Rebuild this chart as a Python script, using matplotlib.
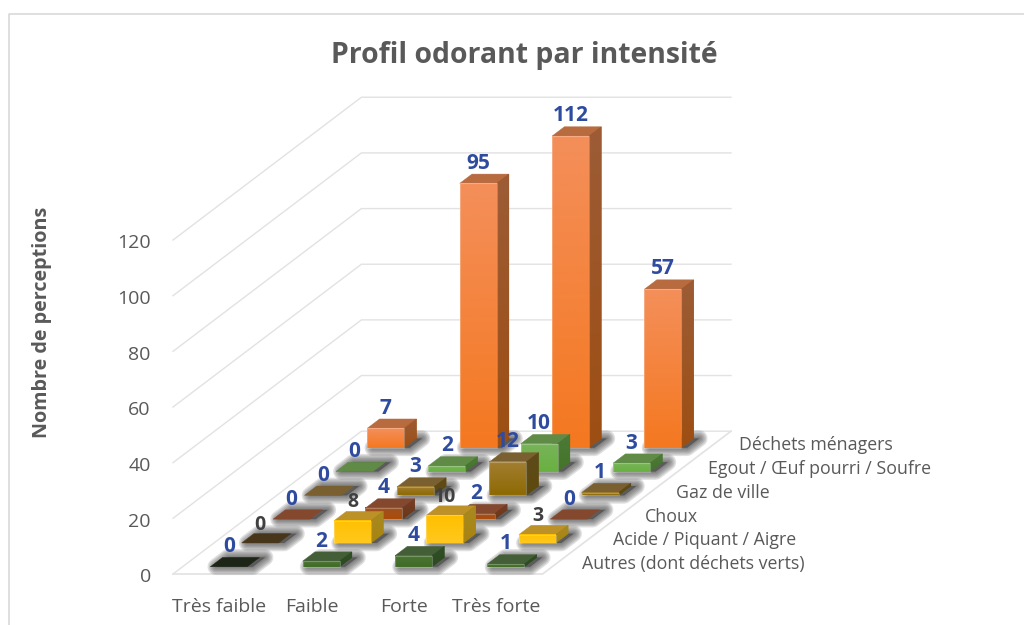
import numpy as np
import matplotlib
matplotlib.use("Agg")
import matplotlib.pyplot as plt
from matplotlib.colors import to_rgb
from matplotlib.lines import Line2D
from matplotlib.patches import Polygon
from matplotlib.transforms import ScaledTranslation

plt.rcParams['font.family'] = ['Open Sans', 'DejaVu Sans']

# rows go from the front of the chart to the back
intensities = ["Très faible", "Faible", "Forte", "Très forte"]
odours = ["Autres (dont déchets verts)", "Acide / Piquant / Aigre", "Choux",
          "Gaz de ville", "Egout / Œuf pourri / Soufre", "Déchets ménagers"]
autres = [0, 2, 4, 1]
acide = [0, 8, 10, 3]
choux = [0, 4, 2, 0]
gaz = [0, 3, 12, 1]
egout = [0, 2, 10, 3]
dechets = [7, 95, 112, 57]
rows = [autres, acide, choux, gaz, egout, dechets]
yticks = [0, 20, 40, 60, 80, 100, 120]

front_top = ["#4C7434", "#FFC000", "#9A5226", "#A27E33", "#78B35A", "#F48F5A"]
front_bot = ["#3F6C26", "#FFC81E", "#AE4B06", "#8E6A02", "#68B13F", "#F47820"]
side_top = ["#304F26", "#A88A22", "#74402A", "#5E4A1C", "#4C7A38", "#9C5C36"]
side_bot = ["#2C4B20", "#A88410", "#6C3616", "#5E4A0C", "#447528", "#9E4E12"]
tops = ["#445E38", "#BC9128", "#84482E", "#7A6030", "#5F8B47", "#B96B40"]
zero_tops = {(0, 0): "#1D2616", (1, 0): "#47361A"}
label_cols = ["#2F4B9F", "#404040", "#2F4B9F", "#2F4B9F", "#2F4B9F", "#2F4B9F"]

# pixel layout of the oblique view
W, H = 1024, 625
x0, y0 = 173, 574
cat_px, unit_px = 92.4, 2.783
dep_px = (31.4, 23.8)
dx = dep_px[0] / cat_px
dy = dep_px[1] / unit_px
bar_w, bar_d = 0.4, 0.39
n_cat, n_row, ymax = len(intensities), len(odours), yticks[-1]


def pt(cat, dep, val):
    return (cat + dep * dx, val + dep * dy)


def poly(points, **kw):
    p = Polygon(points, clip_on=False, **kw)
    ax.add_patch(p)
    return p


def gradient(c_top, c_bot):
    t = np.linspace(0, 1, 64)[:, None, None]
    return np.array(to_rgb(c_top))[None, None, :] * (1 - t) + np.array(to_rgb(c_bot))[None, None, :] * t


fig = plt.figure(figsize=(W / 100, H / 100), dpi=100)
xmax = pt(n_cat, n_row, 0)[0]
ytop = pt(0, n_row, ymax)[1]
ax = fig.add_axes([x0 / W, 1 - y0 / H, xmax * cat_px / W, ytop * unit_px / H])
ax.patch.set_visible(False)
for s in ax.spines.values():
    s.set_visible(False)

# chart frame
fig.add_artist(Line2D([9 / W, 9 / W, 1], [0, 1 - 14 / H, 1 - 14 / H], color="#D9D9D9", lw=1.2))

# walls and floor
grid = "#E2E2E2"
for v in yticks:
    a, b, c = pt(0, 0, v), pt(0, n_row, v), pt(n_cat, n_row, v)
    ax.plot([a[0], b[0], c[0]], [a[1], b[1], c[1]], color=grid, lw=1, zorder=1, clip_on=False)
a, b, c = pt(0, 0, 0), pt(n_cat, 0, 0), pt(n_cat, n_row, 0)
ax.plot([a[0], b[0], c[0]], [a[1], b[1], c[1]], color=grid, lw=1.2, zorder=1, clip_on=False)

# soft shadows on the floor
for j, row in enumerate(rows):
    for i, val in enumerate(row):
        l = i + (1 - bar_w) / 2 + 0.06
        d = j + (1 - bar_d) / 2
        foot = [pt(l, d, 0), pt(l + bar_w, d, 0), pt(l + bar_w, d + bar_d, 0), pt(l, d + bar_d, 0)]
        for lw in [12, 10, 8, 6, 4, 2]:
            poly(foot, fc="#444444", ec="#444444", lw=lw, alpha=0.16, joinstyle="round", zorder=2)

z = 3
for j in range(n_row - 1, -1, -1):
    for i in range(n_cat):
        val = rows[j][i]
        l, r = i + (1 - bar_w) / 2, i + (1 + bar_w) / 2
        d0, d1 = j + (1 - bar_d) / 2, j + (1 + bar_d) / 2
        top_col = zero_tops.get((j, i), tops[j])
        poly([pt(l, d0, val), pt(r, d0, val), pt(r, d1, val), pt(l, d1, val)], fc=top_col, ec=top_col, lw=0.3, zorder=z)
        if val > 0:
            # side face: gradient clipped to its parallelogram
            side = [pt(r, d0, 0), pt(r, d1, 0), pt(r, d1, val), pt(r, d0, val)]
            clip = poly(side, fc=side_bot[j], ec=side_bot[j], lw=0.3, zorder=z)
            xs, ys = zip(*side)
            im = ax.imshow(gradient(side_top[j], side_bot[j]), extent=(min(xs), max(xs), min(ys), max(ys)), origin="upper",
                           aspect="auto", zorder=z + 0.2, interpolation="bilinear")
            im.set_clip_path(clip)
            xa, ya = pt(l, d0, 0)
            xb, yb = pt(r, d0, val)
            ax.imshow(gradient(front_top[j], front_bot[j]), extent=(xa, xb, ya, yb), origin="upper", aspect="auto",
                      zorder=z + 0.5, interpolation="bilinear", clip_on=False)
            poly([(xa, ya), (xb, ya), (xb, yb), (xa, yb)], fill=False, ec=(1, 1, 1, 0.25), lw=0.8, zorder=z + 0.6)
        z += 1
        # value labels stay on top of every bar
        lx, ly = pt((l + r) / 2, d0, val)
        dark = label_cols[j] == "#404040"
        ax.annotate(str(val), (lx, ly), xytext=(0, 13.2 if dark else 14.5), textcoords="offset points", ha="center",
                    va="center", color=label_cols[j], fontsize=14 if dark else 15, fontweight="bold", zorder=100)

# odour names along the right edge of the floor
for j, name in enumerate(odours):
    ax.annotate(name, pt(n_cat, j + 0.5, 0), xytext=(17, -1.5), textcoords="offset points", ha="left", va="center",
                color="#595959", fontsize=12.8, zorder=100)

ax.set_xticks(np.arange(n_cat) + 0.5, intensities)
ax.set_yticks(yticks, yticks)
ax.tick_params(axis="both", length=0, labelcolor="#595959", labelsize=14)
ax.tick_params(axis="x", pad=17)
ax.tick_params(axis="y", pad=16)
for lab in ax.get_yticklabels():
    lab.set_transform(lab.get_transform() + ScaledTranslation(0, -1 / 72, fig.dpi_scale_trans))
ax.set_xlim(0, xmax)
ax.set_ylim(0, ytop)

fig.text(524 / W, 1 - 55 / H, "Profil odorant par intensité", ha="center", va="center", color="#595959",
         fontsize=20.4, fontweight="bold")
fig.text(42 / W, 1 - 322 / H, "Nombre de perceptions", ha="center", va="center", rotation=90, color="#595959",
         fontsize=14.2, fontweight="bold")

fig.savefig("out.png", dpi=100)
